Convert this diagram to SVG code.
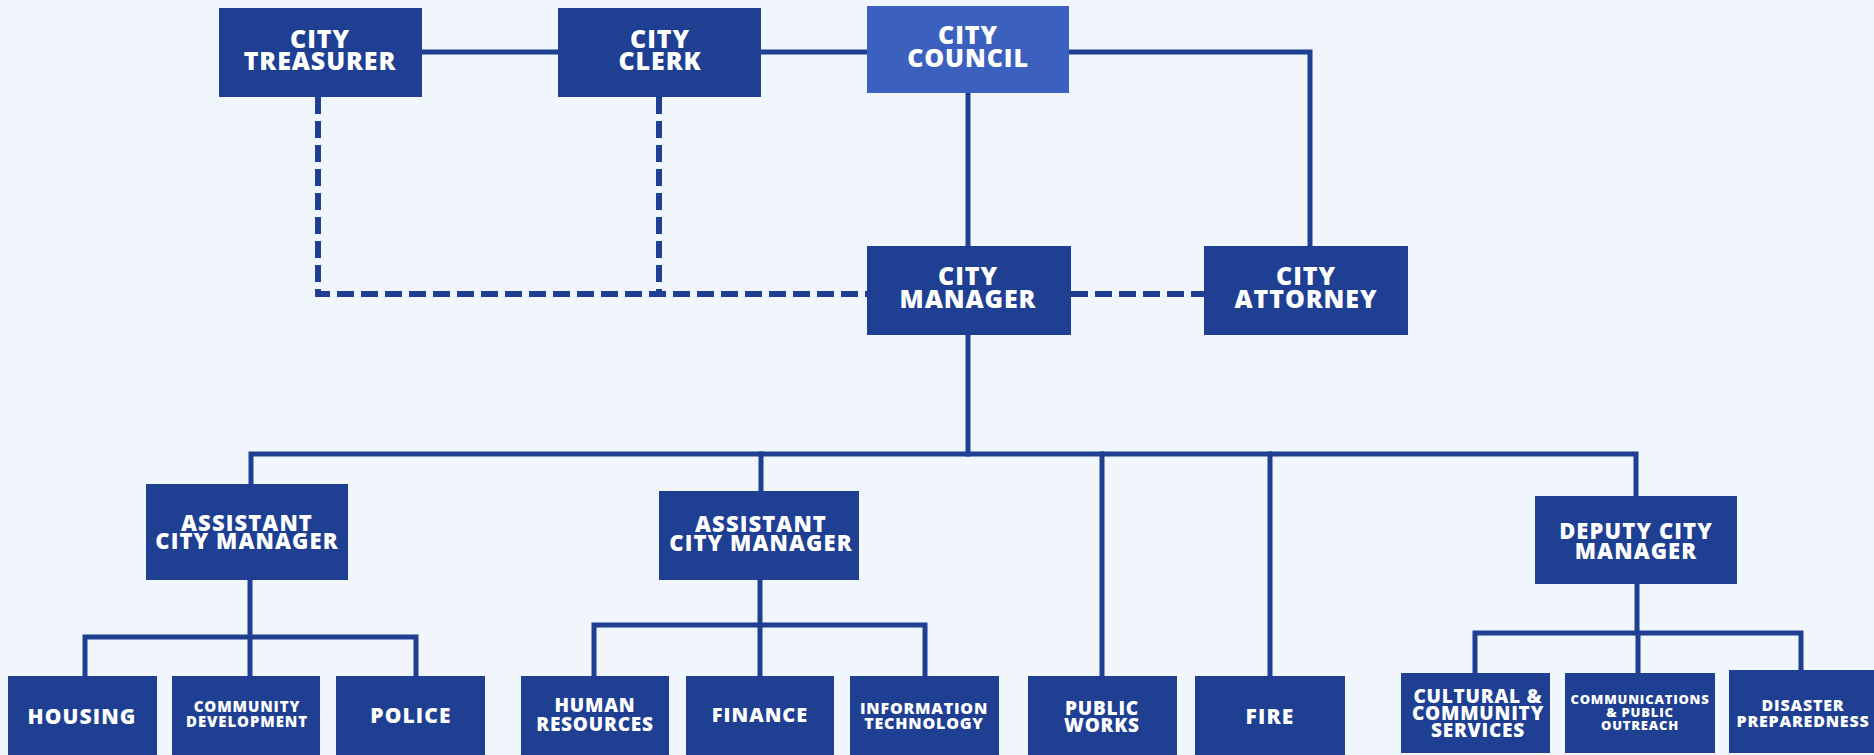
<svg xmlns="http://www.w3.org/2000/svg" width="1874" height="755" viewBox="0 0 1874 755">
<style>
.bg{fill:#F1F6FD}
.box{fill:#1E3F92}
.council{fill:#3C60BE}
.ln{fill:none;stroke:#1E3F92;stroke-width:5;stroke-linecap:square}
.dash{fill:none;stroke:#1E3F92;stroke-width:6;stroke-dasharray:17 7}
text{fill:#FFFFFF;font-family:"Open Sans",Lato,"Liberation Sans",sans-serif;font-weight:800;text-anchor:middle}
.t25{font-size:25px;letter-spacing:0.9px}
.t22{font-size:22px;letter-spacing:1.1px}
.t21{font-size:21px;letter-spacing:1.1px}
.t20{font-size:20px;letter-spacing:1px}
.t19{font-size:19px;letter-spacing:0.8px}
.t16{font-size:16px;letter-spacing:0.8px}
.t15{font-size:15px;letter-spacing:0.9px}
.t13{font-size:13px;letter-spacing:0.8px}
</style>
<rect class="bg" x="0" y="0" width="1874" height="755"/>
<g id="connectors">
<path class="ln" d="M422,52 H558 M761,52 H867"/>
<path class="ln" d="M1069,52 H1310 V246"/>
<path class="ln" d="M968,93 V246"/>
<path class="ln" d="M968,335 V454"/>
<path class="ln" d="M251,484 V454 H1636 V496"/>
<path class="ln" d="M761,454 V491 M1102,454 V676 M1270,454 V676"/>
<path class="ln" d="M250,580 V637 M85,676 V637 H416 V676 M250,637 V676"/>
<path class="ln" d="M760,580 V625 M594,676 V625 H925 V676 M760,625 V676"/>
<path class="ln" d="M1637,584 V633 M1475,673 V633 H1801 V670 M1638,633 V673"/>
<path class="dash" d="M318,97 V294 H867"/>
<path class="dash" d="M659,97 V294"/>
<path class="dash" d="M1071,294 H1204"/>
</g>
<g id="city-treasurer"><rect class="box" x="219" y="8" width="203" height="89"/><text class="t25" x="320" y="48">CITY</text><text class="t25" x="320" y="70">TREASURER</text></g>
<g id="city-clerk"><rect class="box" x="558" y="8" width="203" height="89"/><text class="t25" x="660" y="48">CITY</text><text class="t25" x="660" y="70">CLERK</text></g>
<g id="city-council"><rect class="council" x="867" y="6" width="202" height="87"/><text class="t25" x="968" y="44">CITY</text><text class="t25" x="968" y="67">COUNCIL</text></g>
<g id="city-manager"><rect class="box" x="867" y="246" width="204" height="89"/><text class="t25" x="968" y="285">CITY</text><text class="t25" x="968" y="308">MANAGER</text></g>
<g id="city-attorney"><rect class="box" x="1204" y="246" width="204" height="89"/><text class="t25" x="1306" y="285">CITY</text><text class="t25" x="1306" y="308">ATTORNEY</text></g>
<g id="asst-city-manager-1"><rect class="box" x="146" y="484" width="202" height="96"/><text class="t22" x="247" y="531">ASSISTANT</text><text class="t22" x="247" y="549">CITY MANAGER</text></g>
<g id="asst-city-manager-2"><rect class="box" x="659" y="491" width="200" height="89"/><text class="t22" x="761" y="532">ASSISTANT</text><text class="t22" x="761" y="551">CITY MANAGER</text></g>
<g id="deputy-city-manager"><rect class="box" x="1535" y="496" width="202" height="88"/><text class="t22" x="1636" y="539">DEPUTY CITY</text><text class="t22" x="1636" y="559">MANAGER</text></g>
<g id="housing"><rect class="box" x="8" y="676" width="149" height="79"/><text class="t21" x="82" y="724">HOUSING</text></g>
<g id="community-development"><rect class="box" x="172" y="676" width="148" height="79"/><text class="t15" x="247" y="712">COMMUNITY</text><text class="t15" x="247" y="727">DEVELOPMENT</text></g>
<g id="police"><rect class="box" x="336" y="676" width="149" height="79"/><text class="t21" x="411" y="723">POLICE</text></g>
<g id="human-resources"><rect class="box" x="521" y="676" width="148" height="79"/><text class="t19" x="595" y="712">HUMAN</text><text class="t19" x="595" y="731">RESOURCES</text></g>
<g id="finance"><rect class="box" x="686" y="676" width="148" height="79"/><text class="t20" x="760" y="722">FINANCE</text></g>
<g id="information-technology"><rect class="box" x="850" y="676" width="149" height="79"/><text class="t16" x="924" y="714">INFORMATION</text><text class="t16" x="924" y="729">TECHNOLOGY</text></g>
<g id="public-works"><rect class="box" x="1028" y="676" width="149" height="79"/><text class="t19" x="1102" y="715">PUBLIC</text><text class="t19" x="1102" y="732">WORKS</text></g>
<g id="fire"><rect class="box" x="1195" y="676" width="150" height="79"/><text class="t21" x="1270" y="724">FIRE</text></g>
<g id="cultural-community-services"><rect class="box" x="1401" y="673" width="149" height="80"/><text class="t19" x="1478" y="703">CULTURAL &amp;</text><text class="t19" x="1478" y="720">COMMUNITY</text><text class="t19" x="1478" y="737">SERVICES</text></g>
<g id="communications-public-outreach"><rect class="box" x="1565" y="673" width="150" height="80"/><text class="t13" x="1640" y="704">COMMUNICATIONS</text><text class="t13" x="1640" y="717">&amp; PUBLIC</text><text class="t13" x="1640" y="730">OUTREACH</text></g>
<g id="disaster-preparedness"><rect class="box" x="1729" y="670" width="145" height="83"/><text class="t16" x="1803" y="711">DISASTER</text><text class="t16" x="1803" y="727">PREPAREDNESS</text></g>
</svg>
